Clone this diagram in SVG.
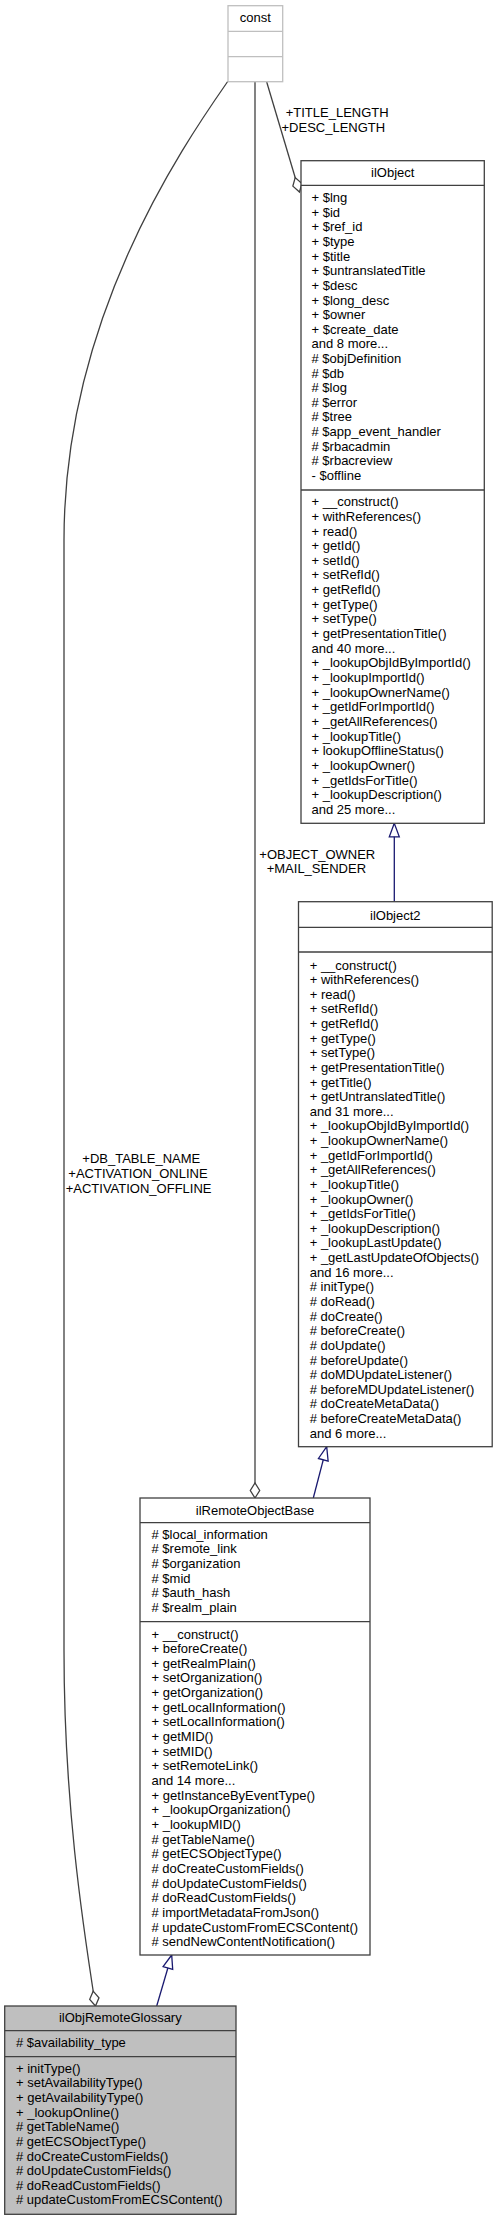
<svg xmlns="http://www.w3.org/2000/svg" width="497" height="2220" viewBox="0 0 497 2220">
<style>
text{font-family:"Liberation Sans",Arial,Helvetica,sans-serif;font-size:13px;fill:#000}
.t{text-anchor:middle}
.box{fill:#fff;stroke:#404040;stroke-width:1.3}
.focus{fill:#bfbfbf;stroke:#404040;stroke-width:1.3}
.cbox{fill:#fff;stroke:#bfbfbf;stroke-width:1.3}
.sep{stroke:#404040;stroke-width:1.3}
.csep{stroke:#bfbfbf;stroke-width:1.3}
.use{fill:none;stroke:#404040;stroke-width:1.3;marker-end:url(#dia)}
.inh{fill:none;stroke:#191970;stroke-width:1.3;marker-end:url(#tri)}
</style>
<defs>
<marker id="dia" markerUnits="userSpaceOnUse" orient="auto" refX="0" refY="0" markerWidth="20" markerHeight="20" overflow="visible">
<path d="M0,0 L-7.5,-4.7 L-15,0 L-7.5,4.7 Z" fill="#fff" stroke="#404040" stroke-width="1.3"/>
</marker>
<marker id="tri" markerUnits="userSpaceOnUse" orient="auto" refX="0" refY="0" markerWidth="20" markerHeight="20" overflow="visible">
<path d="M0,0 L-13.5,-5 L-13.5,5 Z" fill="#fff" stroke="#191970" stroke-width="1.3"/>
</marker>
</defs>
<g id="connectors">
<path class="use" d="M227.7,81.5 C180,150 64,320 64,540 L64,1650 C64,1800 82,1920 95.5,2006"/>
<path class="use" d="M255,82 L255,1498"/>
<path class="use" d="M266.7,82 L299.5,192"/>
<path class="inh" d="M394.3,901.7 L394.3,823.3"/>
<path class="inh" d="M313.3,1498 L326.7,1446.7"/>
<path class="inh" d="M156.7,2006 L171.7,1955"/>
<text x="82.3" y="1162.7">+DB_TABLE_NAME</text>
<text x="68.3" y="1177.7">+ACTIVATION_ONLINE</text>
<text x="65.7" y="1192.7">+ACTIVATION_OFFLINE</text>
<text x="259.3" y="859.3">+OBJECT_OWNER</text>
<text x="266.7" y="873">+MAIL_SENDER</text>
<text x="285.7" y="117.3">+TITLE_LENGTH</text>
<text x="281.5" y="132">+DESC_LENGTH</text>
</g>
<g id="const">
<rect class="cbox" x="228" y="5.7" width="54.7" height="76"/>
<line class="csep" x1="228" y1="31.3" x2="282.7" y2="31.3"/>
<line class="csep" x1="228" y1="56.7" x2="282.7" y2="56.7"/>
<text class="t" x="255.3" y="22">const</text>
</g>
<g id="ilObject">
<rect class="box" x="301" y="160.7" width="183.3" height="662.6"/>
<line class="sep" x1="301" y1="185.3" x2="484.3" y2="185.3"/>
<line class="sep" x1="301" y1="490" x2="484.3" y2="490"/>
<text class="t" x="392.7" y="177.3">ilObject</text>
<text x="311.5" y="202.2"><tspan x="311.5">+ $lng</tspan><tspan x="311.5" dy="14.62">+ $id</tspan><tspan x="311.5" dy="14.62">+ $ref_id</tspan><tspan x="311.5" dy="14.62">+ $type</tspan><tspan x="311.5" dy="14.62">+ $title</tspan><tspan x="311.5" dy="14.62">+ $untranslatedTitle</tspan><tspan x="311.5" dy="14.62">+ $desc</tspan><tspan x="311.5" dy="14.62">+ $long_desc</tspan><tspan x="311.5" dy="14.62">+ $owner</tspan><tspan x="311.5" dy="14.62">+ $create_date</tspan><tspan x="311.5" dy="14.62">and 8 more...</tspan><tspan x="311.5" dy="14.62"># $objDefinition</tspan><tspan x="311.5" dy="14.62"># $db</tspan><tspan x="311.5" dy="14.62"># $log</tspan><tspan x="311.5" dy="14.62"># $error</tspan><tspan x="311.5" dy="14.62"># $tree</tspan><tspan x="311.5" dy="14.62"># $app_event_handler</tspan><tspan x="311.5" dy="14.62"># $rbacadmin</tspan><tspan x="311.5" dy="14.62"># $rbacreview</tspan><tspan x="311.5" dy="14.62">- $offline</tspan></text>
<text x="311.5" y="506.2"><tspan x="311.5">+ __construct()</tspan><tspan x="311.5" dy="14.65">+ withReferences()</tspan><tspan x="311.5" dy="14.65">+ read()</tspan><tspan x="311.5" dy="14.65">+ getId()</tspan><tspan x="311.5" dy="14.65">+ setId()</tspan><tspan x="311.5" dy="14.65">+ setRefId()</tspan><tspan x="311.5" dy="14.65">+ getRefId()</tspan><tspan x="311.5" dy="14.65">+ getType()</tspan><tspan x="311.5" dy="14.65">+ setType()</tspan><tspan x="311.5" dy="14.65">+ getPresentationTitle()</tspan><tspan x="311.5" dy="14.65">and 40 more...</tspan><tspan x="311.5" dy="14.65">+ _lookupObjIdByImportId()</tspan><tspan x="311.5" dy="14.65">+ _lookupImportId()</tspan><tspan x="311.5" dy="14.65">+ _lookupOwnerName()</tspan><tspan x="311.5" dy="14.65">+ _getIdForImportId()</tspan><tspan x="311.5" dy="14.65">+ _getAllReferences()</tspan><tspan x="311.5" dy="14.65">+ _lookupTitle()</tspan><tspan x="311.5" dy="14.65">+ lookupOfflineStatus()</tspan><tspan x="311.5" dy="14.65">+ _lookupOwner()</tspan><tspan x="311.5" dy="14.65">+ _getIdsForTitle()</tspan><tspan x="311.5" dy="14.65">+ _lookupDescription()</tspan><tspan x="311.5" dy="14.65">and 25 more...</tspan></text>
</g>
<g id="ilObject2">
<rect class="box" x="298.5" y="901.7" width="193.7" height="545"/>
<line class="sep" x1="298.5" y1="927.3" x2="492.2" y2="927.3"/>
<line class="sep" x1="298.5" y1="952" x2="492.2" y2="952"/>
<text class="t" x="395.3" y="919.5">ilObject2</text>
<text x="309.7" y="969.5"><tspan x="309.7">+ __construct()</tspan><tspan x="309.7" dy="14.63">+ withReferences()</tspan><tspan x="309.7" dy="14.63">+ read()</tspan><tspan x="309.7" dy="14.63">+ setRefId()</tspan><tspan x="309.7" dy="14.63">+ getRefId()</tspan><tspan x="309.7" dy="14.63">+ getType()</tspan><tspan x="309.7" dy="14.63">+ setType()</tspan><tspan x="309.7" dy="14.63">+ getPresentationTitle()</tspan><tspan x="309.7" dy="14.63">+ getTitle()</tspan><tspan x="309.7" dy="14.63">+ getUntranslatedTitle()</tspan><tspan x="309.7" dy="14.63">and 31 more...</tspan><tspan x="309.7" dy="14.63">+ _lookupObjIdByImportId()</tspan><tspan x="309.7" dy="14.63">+ _lookupOwnerName()</tspan><tspan x="309.7" dy="14.63">+ _getIdForImportId()</tspan><tspan x="309.7" dy="14.63">+ _getAllReferences()</tspan><tspan x="309.7" dy="14.63">+ _lookupTitle()</tspan><tspan x="309.7" dy="14.63">+ _lookupOwner()</tspan><tspan x="309.7" dy="14.63">+ _getIdsForTitle()</tspan><tspan x="309.7" dy="14.63">+ _lookupDescription()</tspan><tspan x="309.7" dy="14.63">+ _lookupLastUpdate()</tspan><tspan x="309.7" dy="14.63">+ _getLastUpdateOfObjects()</tspan><tspan x="309.7" dy="14.63">and 16 more...</tspan><tspan x="309.7" dy="14.63"># initType()</tspan><tspan x="309.7" dy="14.63"># doRead()</tspan><tspan x="309.7" dy="14.63"># doCreate()</tspan><tspan x="309.7" dy="14.63"># beforeCreate()</tspan><tspan x="309.7" dy="14.63"># doUpdate()</tspan><tspan x="309.7" dy="14.63"># beforeUpdate()</tspan><tspan x="309.7" dy="14.63"># doMDUpdateListener()</tspan><tspan x="309.7" dy="14.63"># beforeMDUpdateListener()</tspan><tspan x="309.7" dy="14.63"># doCreateMetaData()</tspan><tspan x="309.7" dy="14.63"># beforeCreateMetaData()</tspan><tspan x="309.7" dy="14.63">and 6 more...</tspan></text>
</g>
<g id="ilRemoteObjectBase">
<rect class="box" x="140" y="1498" width="230" height="457"/>
<line class="sep" x1="140" y1="1522.7" x2="370" y2="1522.7"/>
<line class="sep" x1="140" y1="1621.7" x2="370" y2="1621.7"/>
<text class="t" x="255" y="1514.5">ilRemoteObjectBase</text>
<text x="151.5" y="1538.8"><tspan x="151.5"># $local_information</tspan><tspan x="151.5" dy="14.65"># $remote_link</tspan><tspan x="151.5" dy="14.65"># $organization</tspan><tspan x="151.5" dy="14.65"># $mid</tspan><tspan x="151.5" dy="14.65"># $auth_hash</tspan><tspan x="151.5" dy="14.65"># $realm_plain</tspan></text>
<text x="151.5" y="1638.5"><tspan x="151.5">+ __construct()</tspan><tspan x="151.5" dy="14.65">+ beforeCreate()</tspan><tspan x="151.5" dy="14.65">+ getRealmPlain()</tspan><tspan x="151.5" dy="14.65">+ setOrganization()</tspan><tspan x="151.5" dy="14.65">+ getOrganization()</tspan><tspan x="151.5" dy="14.65">+ getLocalInformation()</tspan><tspan x="151.5" dy="14.65">+ setLocalInformation()</tspan><tspan x="151.5" dy="14.65">+ getMID()</tspan><tspan x="151.5" dy="14.65">+ setMID()</tspan><tspan x="151.5" dy="14.65">+ setRemoteLink()</tspan><tspan x="151.5" dy="14.65">and 14 more...</tspan><tspan x="151.5" dy="14.65">+ getInstanceByEventType()</tspan><tspan x="151.5" dy="14.65">+ _lookupOrganization()</tspan><tspan x="151.5" dy="14.65">+ _lookupMID()</tspan><tspan x="151.5" dy="14.65"># getTableName()</tspan><tspan x="151.5" dy="14.65"># getECSObjectType()</tspan><tspan x="151.5" dy="14.65"># doCreateCustomFields()</tspan><tspan x="151.5" dy="14.65"># doUpdateCustomFields()</tspan><tspan x="151.5" dy="14.65"># doReadCustomFields()</tspan><tspan x="151.5" dy="14.65"># importMetadataFromJson()</tspan><tspan x="151.5" dy="14.65"># updateCustomFromECSContent()</tspan><tspan x="151.5" dy="14.65"># sendNewContentNotification()</tspan></text>
</g>
<g id="ilObjRemoteGlossary">
<rect class="focus" x="4.7" y="2006" width="231.3" height="208.3"/>
<line class="sep" x1="4.7" y1="2030.7" x2="236" y2="2030.7"/>
<line class="sep" x1="4.7" y1="2056.7" x2="236" y2="2056.7"/>
<text class="t" x="120.3" y="2022.2">ilObjRemoteGlossary</text>
<text x="16" y="2047.2"># $availability_type</text>
<text x="16" y="2072.8"><tspan x="16">+ initType()</tspan><tspan x="16" dy="14.63">+ setAvailabilityType()</tspan><tspan x="16" dy="14.63">+ getAvailabilityType()</tspan><tspan x="16" dy="14.63">+ _lookupOnline()</tspan><tspan x="16" dy="14.63"># getTableName()</tspan><tspan x="16" dy="14.63"># getECSObjectType()</tspan><tspan x="16" dy="14.63"># doCreateCustomFields()</tspan><tspan x="16" dy="14.63"># doUpdateCustomFields()</tspan><tspan x="16" dy="14.63"># doReadCustomFields()</tspan><tspan x="16" dy="14.63"># updateCustomFromECSContent()</tspan></text>
</g>
</svg>
